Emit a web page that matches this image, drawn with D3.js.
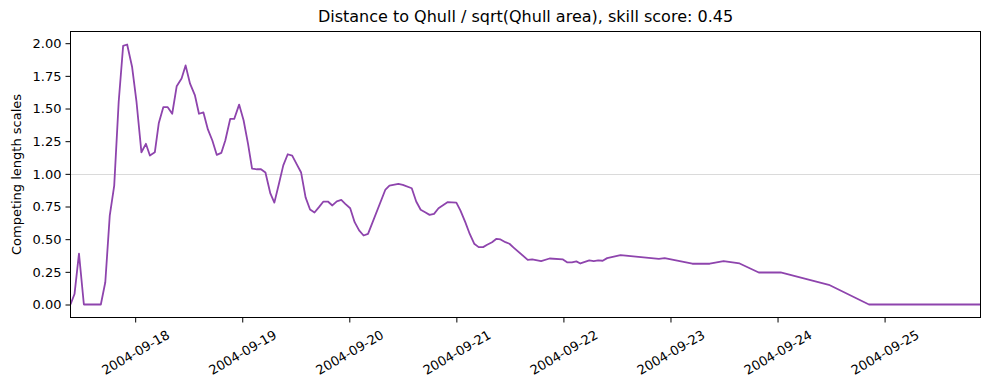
<!DOCTYPE html>
<html>
<head>
<meta charset="utf-8">
<script src="https://cdn.jsdelivr.net/npm/d3@7"></script>
<style>
  body { margin: 0; background: #fff; }
  svg { display: block; font-family: "DejaVu Sans", sans-serif; }
</style>
</head>
<body>
<svg id="chart" width="989" height="390"></svg>
<script>
// series: hours after the first sample, and the score
var startTime = "2004-09-17T09:30:00Z";
var hours = [0.0, 0.9, 1.9, 3.0, 6.8, 7.8, 8.8, 9.8, 10.8, 11.8, 12.7, 13.8, 14.8, 15.9, 16.9, 17.8, 18.9, 19.8,
    20.8, 21.8, 22.8, 23.8, 24.9, 25.8, 26.8, 27.9, 28.8, 29.8, 30.8, 31.8, 32.8, 33.8, 34.7, 35.8, 36.7, 37.8,
    38.8, 39.8, 40.7, 41.8, 42.7, 43.7, 44.8, 45.7, 46.7, 47.7, 48.7, 49.7, 50.7, 51.7, 52.7, 53.7, 54.7, 55.7,
    56.7, 57.7, 58.7, 59.7, 60.7, 61.6, 62.7, 63.7, 64.7, 65.7, 66.7, 70.6, 71.5, 73.5, 74.5, 76.5, 77.5, 78.5,
    79.5, 80.5, 81.5, 82.5, 84.5, 86.5, 87.4, 88.5, 89.5, 90.5, 91.5, 92.5, 93.4, 94.5, 95.5, 96.4, 97.5, 98.4,
    99.4, 102.5, 103.5, 105.5, 107.4, 110.4, 111.4, 112.4, 113.4, 114.3, 116.3, 117.3, 118.3, 119.3, 120.3,
    123.3, 131.9, 133.2, 139.4, 143.3, 146.4, 150.0, 154.3, 159.2, 170.0, 179.0, 204.0];
var values = [0.00, 0.08, 0.39, 0.00, 0.00, 0.17, 0.68, 0.91, 1.55, 1.98, 1.99, 1.82, 1.55, 1.165, 1.23, 1.14, 1.165, 1.39,
    1.51, 1.51, 1.46, 1.67, 1.73, 1.83, 1.69, 1.60, 1.46, 1.47, 1.34, 1.255, 1.145, 1.16, 1.255, 1.42, 1.42, 1.53,
    1.41, 1.23, 1.04, 1.035, 1.035, 1.01, 0.85, 0.78, 0.92, 1.065, 1.15, 1.14, 1.075, 1.01, 0.82, 0.727, 0.704, 0.745,
    0.788, 0.788, 0.758, 0.79, 0.80, 0.77, 0.737, 0.63, 0.567, 0.528, 0.541, 0.88, 0.91, 0.923, 0.916, 0.89, 0.788, 0.725,
    0.706, 0.686, 0.694, 0.737, 0.783, 0.78, 0.72, 0.63, 0.54, 0.465, 0.439, 0.439, 0.457, 0.477, 0.503, 0.498, 0.477, 0.465,
    0.434, 0.342, 0.345, 0.332, 0.352, 0.345, 0.322, 0.322, 0.33, 0.314, 0.337, 0.332, 0.337, 0.335, 0.355,
    0.378, 0.35, 0.355, 0.312, 0.312, 0.332, 0.314, 0.245, 0.245, 0.151, 0.0, 0.0];
var yTicks = [0, 0.25, 0.5, 0.75, 1.0, 1.25, 1.5, 1.75, 2.0];
var refLevel = 1.0;
var titleText = "Distance to Qhull / sqrt(Qhull area), skill score: 0.45";
var yLabel = "Competing length scales";

var plotL = 70.5, plotR = 980.5, plotT = 31.5, plotB = 317.5;
var svg = d3.select("#chart");

var t0 = new Date(startTime).getTime();
var data = hours.map(function (h, i) {
    return { t: new Date(t0 + h * 3600e3), v: values[i] };
});

var x = d3.scaleUtc()
    .domain(d3.extent(data, function (d) { return d.t; }))
    .range([plotL, plotR]);
// matplotlib style 5% margin on y
var vmax = d3.max(values), vmin = d3.min(values);
var pad = (vmax - vmin) * 0.05;
var y = d3.scaleLinear().domain([vmin - pad, vmax + pad]).range([plotB, plotT]);

// reference line at 1.0
svg.append("line")
    .attr("x1", plotL).attr("x2", plotR)
    .attr("y1", Math.round(y(refLevel)) + 0.5).attr("y2", Math.round(y(refLevel)) + 0.5)
    .attr("stroke", "#b4b4b4").attr("stroke-width", 1)
    .attr("stroke-dasharray", "1,1");

svg.append("defs").append("clipPath").attr("id", "clip")
    .append("rect").attr("x", plotL).attr("y", plotT)
    .attr("width", plotR - plotL).attr("height", plotB - plotT);

var line = d3.line()
    .x(function (d) { return x(d.t); })
    .y(function (d) { return y(d.v); });

svg.append("path")
    .datum(data)
    .attr("clip-path", "url(#clip)")
    .attr("fill", "none")
    .attr("stroke", "#8e44ad")
    .attr("stroke-width", 1.8)
    .attr("stroke-linejoin", "round")
    .attr("d", line);

// y axis
var yAxis = svg.append("g")
    .attr("transform", "translate(" + plotL + ",0)")
    .call(d3.axisLeft(y).tickValues(yTicks).tickFormat(d3.format(".2f")).tickSize(5).tickPadding(4));
yAxis.select(".domain").remove();
yAxis.selectAll("text").attr("font-size", 13).attr("fill", "#000").attr("font-family", "DejaVu Sans");
yAxis.selectAll("line").attr("stroke", "#000");

// x axis
var days = d3.utcDay.range(d3.utcDay.ceil(x.domain()[0]), x.domain()[1]);
var xAxis = svg.append("g")
    .attr("transform", "translate(0," + plotB + ")")
    .call(d3.axisBottom(x).tickValues(days).tickFormat(d3.utcFormat("%Y-%m-%d")).tickSize(5));
xAxis.select(".domain").remove();
xAxis.selectAll("line").attr("stroke", "#000");
xAxis.selectAll("text")
    .attr("font-size", 13).attr("fill", "#000").attr("font-family", "DejaVu Sans")
    .attr("y", 0).attr("dy", null)
    .attr("dominant-baseline", "central")
    .attr("text-anchor", "middle")
    .attr("transform", "translate(0,35) rotate(-30)");

// frame
svg.append("rect")
    .attr("x", plotL).attr("y", plotT)
    .attr("width", plotR - plotL).attr("height", plotB - plotT)
    .attr("fill", "none").attr("stroke", "#000").attr("stroke-width", 1);

svg.append("text")
    .attr("x", (plotL + plotR) / 2).attr("y", 22)
    .attr("text-anchor", "middle")
    .attr("font-size", 16)
    .text(titleText);

svg.append("text")
    .attr("transform", "translate(21," + (plotT + plotB) / 2 + ") rotate(-90)")
    .attr("text-anchor", "middle")
    .attr("font-size", 13)
    .text(yLabel);
</script>
</body>
</html>
